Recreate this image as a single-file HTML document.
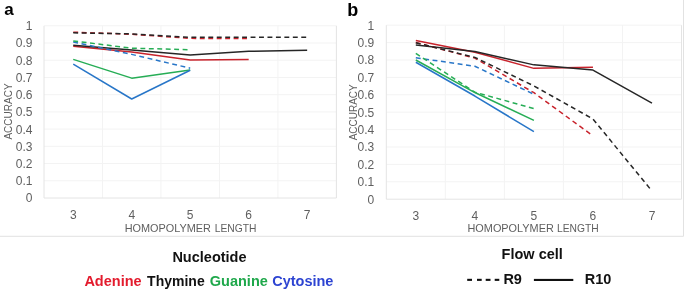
<!DOCTYPE html>
<html><head><meta charset="utf-8"><title>Accuracy by homopolymer length</title>
<style>
html,body{margin:0;padding:0;background:#fff;}
body{width:685px;height:290px;overflow:hidden;}
svg{display:block;will-change:transform;}
text{font-family:"Liberation Sans",sans-serif;}
.tk{font-size:12px;fill:#5f5f5f;}
.acc{font-size:10px;fill:#5f5f5f;}
.ttl{font-size:10.6px;fill:#5f5f5f;}
.pl{font-weight:bold;fill:#000;}
.lg{font-weight:bold;font-size:14.5px;fill:#111;}
</style></head>
<body>
<svg width="685" height="290" viewBox="0 0 685 290">
<rect width="685" height="290" fill="#fff"/>
<line x1="44" y1="180.78" x2="336.4" y2="180.78" stroke="#f3f3f3" stroke-width="1"/>
<line x1="44" y1="163.56" x2="336.4" y2="163.56" stroke="#f3f3f3" stroke-width="1"/>
<line x1="44" y1="146.34" x2="336.4" y2="146.34" stroke="#f3f3f3" stroke-width="1"/>
<line x1="44" y1="129.12" x2="336.4" y2="129.12" stroke="#f3f3f3" stroke-width="1"/>
<line x1="44" y1="111.9" x2="336.4" y2="111.9" stroke="#f3f3f3" stroke-width="1"/>
<line x1="44" y1="94.68" x2="336.4" y2="94.68" stroke="#f3f3f3" stroke-width="1"/>
<line x1="44" y1="77.46" x2="336.4" y2="77.46" stroke="#f3f3f3" stroke-width="1"/>
<line x1="44" y1="60.24" x2="336.4" y2="60.24" stroke="#f3f3f3" stroke-width="1"/>
<line x1="44" y1="43.02" x2="336.4" y2="43.02" stroke="#f3f3f3" stroke-width="1"/>
<line x1="44" y1="25.8" x2="336.4" y2="25.8" stroke="#f3f3f3" stroke-width="1"/>
<line x1="44" y1="25.8" x2="44" y2="198" stroke="#e4e4e4" stroke-width="1"/>
<line x1="102.48" y1="25.8" x2="102.48" y2="198" stroke="#f3f3f3" stroke-width="1"/>
<line x1="160.96" y1="25.8" x2="160.96" y2="198" stroke="#f3f3f3" stroke-width="1"/>
<line x1="219.44" y1="25.8" x2="219.44" y2="198" stroke="#f3f3f3" stroke-width="1"/>
<line x1="277.92" y1="25.8" x2="277.92" y2="198" stroke="#f3f3f3" stroke-width="1"/>
<line x1="336.4" y1="25.8" x2="336.4" y2="198" stroke="#e4e4e4" stroke-width="1"/>
<line x1="44" y1="198" x2="336.4" y2="198" stroke="#e4e4e4" stroke-width="1"/>
<text x="32.4" y="202.4" text-anchor="end" class="tk">0</text>
<text x="32.4" y="185.18" text-anchor="end" class="tk">0.1</text>
<text x="32.4" y="167.96" text-anchor="end" class="tk">0.2</text>
<text x="32.4" y="150.74" text-anchor="end" class="tk">0.3</text>
<text x="32.4" y="133.52" text-anchor="end" class="tk">0.4</text>
<text x="32.4" y="116.3" text-anchor="end" class="tk">0.5</text>
<text x="32.4" y="99.08" text-anchor="end" class="tk">0.6</text>
<text x="32.4" y="81.86" text-anchor="end" class="tk">0.7</text>
<text x="32.4" y="64.64" text-anchor="end" class="tk">0.8</text>
<text x="32.4" y="47.42" text-anchor="end" class="tk">0.9</text>
<text x="32.4" y="30.2" text-anchor="end" class="tk">1</text>
<text x="73.24" y="218.6" text-anchor="middle" class="tk">3</text>
<text x="131.72" y="218.6" text-anchor="middle" class="tk">4</text>
<text x="190.2" y="218.6" text-anchor="middle" class="tk">5</text>
<text x="248.68" y="218.6" text-anchor="middle" class="tk">6</text>
<text x="307.16" y="218.6" text-anchor="middle" class="tk">7</text>
<text transform="translate(12.1,111.5) rotate(-90)" text-anchor="middle" class="acc">ACCURACY</text>
<text transform="translate(124.7,232.4) scale(1,1.05)" class="ttl" textLength="86.3" lengthAdjust="spacingAndGlyphs">HOMOPOLYMER</text>
<text transform="translate(214.8,232.4) scale(1,1.05)" class="ttl" textLength="41.7" lengthAdjust="spacingAndGlyphs">LENGTH</text>
<polyline points="73.24,46.29 131.72,51.97 190.2,60.07 248.68,59.38" fill="none" stroke="#c8232c" stroke-width="1.5" stroke-linejoin="round"/>
<polyline points="73.24,45.26 131.72,50.08 190.2,54.9 248.68,51.29 307.16,50.25" fill="none" stroke="#262626" stroke-width="1.5" stroke-linejoin="round"/>
<polyline points="73.24,59.38 131.72,78.15 190.2,70.06" fill="none" stroke="#26ad55" stroke-width="1.5" stroke-linejoin="round"/>
<polyline points="73.24,64.2 131.72,98.99 190.2,70.23" fill="none" stroke="#2876c8" stroke-width="1.5" stroke-linejoin="round"/>
<polyline points="73.24,32.17 131.72,34.24 190.2,38.37 248.68,38.54" fill="none" stroke="#c8232c" stroke-width="1.5" stroke-linejoin="round" stroke-dasharray="4.9 3.55"/>
<polyline points="73.24,32.86 131.72,33.89 190.2,37.34 248.68,37.34 307.16,37.17" fill="none" stroke="#262626" stroke-width="1.5" stroke-linejoin="round" stroke-dasharray="4.9 3.55"/>
<polyline points="73.24,41.99 131.72,54.39 190.2,68.16" fill="none" stroke="#2876c8" stroke-width="1.5" stroke-linejoin="round" stroke-dasharray="4.9 3.55"/>
<polyline points="73.24,40.95 131.72,48.19 190.2,49.74" fill="none" stroke="#26ad55" stroke-width="1.5" stroke-linejoin="round" stroke-dasharray="4.9 3.55"/>
<line x1="386.3" y1="181.8" x2="681.5" y2="181.8" stroke="#f3f3f3" stroke-width="1"/>
<line x1="386.3" y1="164.4" x2="681.5" y2="164.4" stroke="#f3f3f3" stroke-width="1"/>
<line x1="386.3" y1="147" x2="681.5" y2="147" stroke="#f3f3f3" stroke-width="1"/>
<line x1="386.3" y1="129.6" x2="681.5" y2="129.6" stroke="#f3f3f3" stroke-width="1"/>
<line x1="386.3" y1="112.2" x2="681.5" y2="112.2" stroke="#f3f3f3" stroke-width="1"/>
<line x1="386.3" y1="94.8" x2="681.5" y2="94.8" stroke="#f3f3f3" stroke-width="1"/>
<line x1="386.3" y1="77.4" x2="681.5" y2="77.4" stroke="#f3f3f3" stroke-width="1"/>
<line x1="386.3" y1="60" x2="681.5" y2="60" stroke="#f3f3f3" stroke-width="1"/>
<line x1="386.3" y1="42.6" x2="681.5" y2="42.6" stroke="#f3f3f3" stroke-width="1"/>
<line x1="386.3" y1="25.2" x2="681.5" y2="25.2" stroke="#f3f3f3" stroke-width="1"/>
<line x1="386.3" y1="25.2" x2="386.3" y2="199.2" stroke="#e4e4e4" stroke-width="1"/>
<line x1="445.34" y1="25.2" x2="445.34" y2="199.2" stroke="#f3f3f3" stroke-width="1"/>
<line x1="504.38" y1="25.2" x2="504.38" y2="199.2" stroke="#f3f3f3" stroke-width="1"/>
<line x1="563.42" y1="25.2" x2="563.42" y2="199.2" stroke="#f3f3f3" stroke-width="1"/>
<line x1="622.46" y1="25.2" x2="622.46" y2="199.2" stroke="#f3f3f3" stroke-width="1"/>
<line x1="681.5" y1="25.2" x2="681.5" y2="199.2" stroke="#e4e4e4" stroke-width="1"/>
<line x1="386.3" y1="199.2" x2="681.5" y2="199.2" stroke="#e4e4e4" stroke-width="1"/>
<text x="374.3" y="203.6" text-anchor="end" class="tk">0</text>
<text x="374.3" y="186.2" text-anchor="end" class="tk">0.1</text>
<text x="374.3" y="168.8" text-anchor="end" class="tk">0.2</text>
<text x="374.3" y="151.4" text-anchor="end" class="tk">0.3</text>
<text x="374.3" y="134" text-anchor="end" class="tk">0.4</text>
<text x="374.3" y="116.6" text-anchor="end" class="tk">0.5</text>
<text x="374.3" y="99.2" text-anchor="end" class="tk">0.6</text>
<text x="374.3" y="81.8" text-anchor="end" class="tk">0.7</text>
<text x="374.3" y="64.4" text-anchor="end" class="tk">0.8</text>
<text x="374.3" y="47" text-anchor="end" class="tk">0.9</text>
<text x="374.3" y="29.6" text-anchor="end" class="tk">1</text>
<text x="415.82" y="219.9" text-anchor="middle" class="tk">3</text>
<text x="474.86" y="219.9" text-anchor="middle" class="tk">4</text>
<text x="533.9" y="219.9" text-anchor="middle" class="tk">5</text>
<text x="592.94" y="219.9" text-anchor="middle" class="tk">6</text>
<text x="651.98" y="219.9" text-anchor="middle" class="tk">7</text>
<text transform="translate(357.3,112.3) rotate(-90)" text-anchor="middle" class="acc">ACCURACY</text>
<text transform="translate(467.5,231.7) scale(1,1.05)" class="ttl" textLength="86.3" lengthAdjust="spacingAndGlyphs">HOMOPOLYMER</text>
<text transform="translate(557,231.7) scale(1,1.05)" class="ttl" textLength="41.7" lengthAdjust="spacingAndGlyphs">LENGTH</text>
<polyline points="415.82,40.51 474.86,52.17 533.9,68.35 592.94,67.13" fill="none" stroke="#c8232c" stroke-width="1.5" stroke-linejoin="round"/>
<polyline points="415.82,45.04 474.86,51.47 533.9,64.87 592.94,70.09 651.98,103.15" fill="none" stroke="#262626" stroke-width="1.5" stroke-linejoin="round"/>
<polyline points="415.82,60 474.86,92.54 533.9,120.38" fill="none" stroke="#26ad55" stroke-width="1.5" stroke-linejoin="round"/>
<polyline points="415.82,62.26 474.86,96.02 533.9,131.69" fill="none" stroke="#2876c8" stroke-width="1.5" stroke-linejoin="round"/>
<polyline points="415.82,42.43 474.86,58.09 533.9,92.71 592.94,135.86" fill="none" stroke="#c8232c" stroke-width="1.5" stroke-linejoin="round" stroke-dasharray="4.9 3.55"/>
<polyline points="415.82,42.77 474.86,57.39 533.9,85.93 592.94,118.99 651.98,191.02" fill="none" stroke="#262626" stroke-width="1.5" stroke-linejoin="round" stroke-dasharray="4.9 3.55"/>
<polyline points="415.82,57.74 474.86,66.26 533.9,94.28" fill="none" stroke="#2876c8" stroke-width="1.5" stroke-linejoin="round" stroke-dasharray="4.9 3.55"/>
<polyline points="415.82,53.39 474.86,92.19 533.9,108.55" fill="none" stroke="#26ad55" stroke-width="1.5" stroke-linejoin="round" stroke-dasharray="4.9 3.55"/>
<line x1="0" y1="236.3" x2="683.5" y2="236.3" stroke="#e2e2e2" stroke-width="1"/>
<line x1="683.5" y1="0" x2="683.5" y2="236.3" stroke="#e2e2e2" stroke-width="1"/>
<text x="4.3" y="15.0" class="pl" font-size="17">a</text>
<text x="347.2" y="16.3" class="pl" font-size="18">b</text>
<text x="172.4" y="261.6" class="lg">Nucleotide</text>
<text x="84.4" y="286.4" class="lg" style="fill:#e31b2d">Adenine</text>
<text x="147.1" y="286.4" class="lg" style="fill:#111" textLength="57.6" lengthAdjust="spacingAndGlyphs">Thymine</text>
<text x="209.8" y="286.4" class="lg" style="fill:#1fa84b">Guanine</text>
<text x="272.2" y="286.4" class="lg" style="fill:#2d44d2">Cytosine</text>
<text x="501.6" y="259.1" class="lg">Flow cell</text>
<rect x="467.2" y="278.8" width="4.8" height="2.1" fill="#111"/>
<rect x="477" y="278.8" width="4.7" height="2.1" fill="#111"/>
<rect x="485.7" y="278.8" width="4.8" height="2.1" fill="#111"/>
<rect x="494.7" y="278.8" width="4.6" height="2.1" fill="#111"/>
<text x="503.4" y="283.8" class="lg">R9</text>
<rect x="533.9" y="278.9" width="39.4" height="2.1" fill="#111"/>
<text x="584.8" y="283.8" class="lg">R10</text>
</svg>
</body></html>
